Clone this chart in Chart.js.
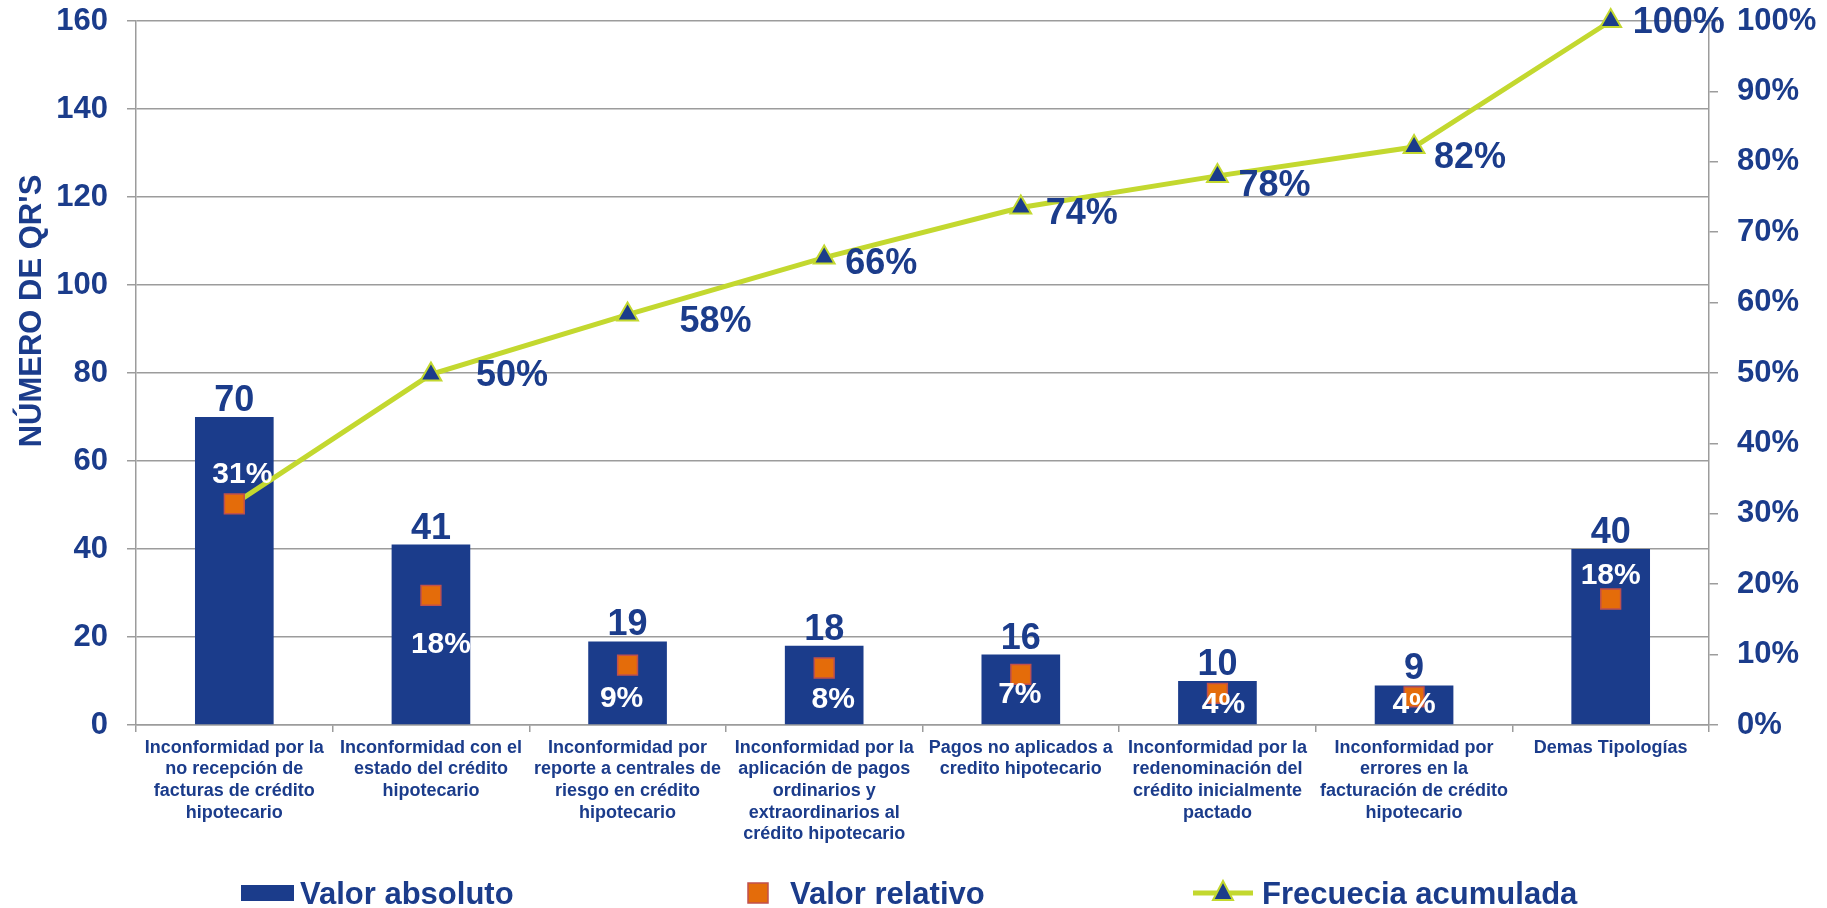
<!DOCTYPE html>
<html>
<head>
<meta charset="utf-8">
<script src="https://cdn.jsdelivr.net/npm/chart.js@4.4.1/dist/chart.umd.min.js"></script>
<style>
html,body{margin:0;padding:0;background:#fff;}
canvas{display:block;}
</style>
</head>
<body>
<canvas id="paretoChart" width="1827" height="908"></canvas>
<script>
/* =========================================
DATA
========================================= */

const categories = [
["Inconformidad por la","no recepción de","facturas de crédito","hipotecario"],
["Inconformidad con el","estado del crédito","hipotecario"],
["Inconformidad por","reporte a centrales de","riesgo en crédito","hipotecario"],
["Inconformidad por la","aplicación de pagos","ordinarios y","extraordinarios al","crédito hipotecario"],
["Pagos no aplicados a","credito hipotecario"],
["Inconformidad por la","redenominación del","crédito inicialmente","pactado"],
["Inconformidad por","errores en la","facturación de crédito","hipotecario"],
["Demas Tipologías"]
];

const absValues = [70,41,19,18,16,10,9,40];

const relValues = [31.4,18.4,8.5,8.1,7.2,4.5,4.0,17.9];

const cumValues = [31.4,49.8,58.3,66.4,73.5,78.0,82.1,100];

const relLabels = ["31%","18%","9%","8%","7%","4%","4%","18%"];

const cumLabels = ["","50%","58%","66%","74%","78%","82%","100%"];

const leftTicks = [0,20,40,60,80,100,120,140,160];

const rightTicks = [0,10,20,30,40,50,60,70,80,90,100];

const seriesNames = ["Valor absoluto","Valor relativo","Frecuecia acumulada"];

const axisTitle = "NÚMERO DE QR'S";

/* =========================================
STYLE
========================================= */

const BLUE = "#1b3c8b";
const ORANGE = "#e46c0a";
const ORANGE_EDGE = "#c0504d";
const GREEN = "#c3d82f";
const GRID = "#9c9c9c";
const FONT = '"Liberation Sans", Arial, sans-serif';

/* label nudges, in pixels: [dx, dy] */
const relShift = [[8,-29],[10,49],[-6,34],[9,32],[-1,20],[6,11],[0,8],[0,-23]];
const cumShift = [[0,0],[45,2],[52,8],[21,7],[25,7],[21,10],[20,11],[22,2]];

/* =========================================
LABELS + LEGEND
========================================= */

const paretoLabels = {

id:"paretoLabels",

afterDatasetsDraw(chart){

const ctx = chart.ctx;

ctx.save();

// bar values
ctx.font = "bold 36px " + FONT;
ctx.fillStyle = BLUE;
ctx.textAlign = "center";
ctx.textBaseline = "alphabetic";

chart.getDatasetMeta(0).data.forEach((bar,i)=>{
ctx.fillText(String(absValues[i]), bar.x, bar.y - 6);
});

// relative labels
ctx.font = "bold 30px " + FONT;
ctx.fillStyle = "#ffffff";
ctx.textBaseline = "middle";

chart.getDatasetMeta(1).data.forEach((pt,i)=>{
ctx.fillText(relLabels[i], pt.x + relShift[i][0], pt.y + relShift[i][1]);
});

// cumulative labels
ctx.font = "bold 36px " + FONT;
ctx.fillStyle = BLUE;
ctx.textAlign = "left";

chart.getDatasetMeta(2).data.forEach((pt,i)=>{
if(!cumLabels[i]) return;
ctx.fillText(cumLabels[i], pt.x + cumShift[i][0], pt.y + cumShift[i][1]);
});

ctx.restore();

},

afterDraw(chart){

const ctx = chart.ctx;

ctx.save();

// y axis title
ctx.translate(41,311);
ctx.rotate(-Math.PI/2);
ctx.font = "bold 31px " + FONT;
ctx.fillStyle = BLUE;
ctx.textAlign = "center";
ctx.textBaseline = "alphabetic";
ctx.fillText(axisTitle,0,0);
ctx.setTransform(1,0,0,1,0,0);

// legend
const y = 893;
ctx.font = "bold 31px " + FONT;
ctx.textAlign = "left";
ctx.textBaseline = "alphabetic";

ctx.fillStyle = BLUE;
ctx.fillRect(241,885,53,16);
ctx.fillText(seriesNames[0],300,904);

ctx.fillStyle = ORANGE;
ctx.fillRect(748,883,20,20);
ctx.strokeStyle = ORANGE_EDGE;
ctx.lineWidth = 1.5;
ctx.strokeRect(748,883,20,20);
ctx.fillStyle = BLUE;
ctx.fillText(seriesNames[1],790,904);

ctx.strokeStyle = GREEN;
ctx.lineWidth = 5;
ctx.beginPath();
ctx.moveTo(1193,y);
ctx.lineTo(1253,y);
ctx.stroke();
ctx.beginPath();
ctx.moveTo(1223,y-12);
ctx.lineTo(1233,y+7);
ctx.lineTo(1213,y+7);
ctx.closePath();
ctx.fillStyle = BLUE;
ctx.fill();
ctx.lineWidth = 2;
ctx.stroke();
ctx.fillText(seriesNames[2],1262,904);

ctx.restore();

}

};

/* =========================================
CHART
========================================= */

new Chart(document.getElementById("paretoChart"),{

type:"bar",

data:{

labels:categories,

datasets:[

{
type:"bar",
label:seriesNames[0],
data:absValues,
yAxisID:"y",
backgroundColor:BLUE,
borderWidth:0,
barPercentage:0.4,
categoryPercentage:1,
order:3
},

{
type:"line",
label:seriesNames[1],
data:relValues,
yAxisID:"y1",
showLine:false,
pointStyle:"rect",
pointRadius:14,
backgroundColor:ORANGE,
borderColor:ORANGE_EDGE,
pointBorderWidth:1.5,
clip:false,
order:1
},

{
type:"line",
label:seriesNames[2],
data:cumValues,
yAxisID:"y1",
borderColor:GREEN,
borderWidth:5,
tension:0,
pointStyle:"triangle",
// first point sits under the 31% square, no marker there
pointRadius:(c)=>c.dataIndex === 0 ? 0 : 12,
pointBackgroundColor:BLUE,
pointBorderColor:GREEN,
pointBorderWidth:2,
clip:false,
order:2
}

]

},

options:{

responsive:false,
animation:false,
events:[],

layout:{
padding:{top:21,bottom:60,left:0,right:0}
},

plugins:{
legend:{display:false},
tooltip:{enabled:false}
},

scales:{

x:{
afterFit:(scale)=>{ scale.height = 123; },
border:{color:GRID,width:1.5},
grid:{
offset:true,
drawOnChartArea:false,
drawTicks:true,
tickLength:7,
color:GRID,
lineWidth:1.5
},
ticks:{
color:BLUE,
font:{family:FONT,size:18,weight:"bold",lineHeight:1.2},
maxRotation:0,
autoSkip:false,
padding:5
}
},

y:{
position:"left",
min:leftTicks[0],
max:leftTicks[leftTicks.length-1],
afterFit:(scale)=>{ scale.width = 136; scale.paddingTop = 0; scale.paddingBottom = 0; },
afterBuildTicks:(scale)=>{ scale.ticks = leftTicks.map(v=>({value:v})); },
border:{color:GRID,width:1.5},
grid:{
color:GRID,
lineWidth:1.5,
tickLength:9
},
ticks:{
color:BLUE,
font:{family:FONT,size:31,weight:"bold"},
padding:19
}
},

y1:{
position:"right",
min:rightTicks[0],
max:rightTicks[rightTicks.length-1],
afterFit:(scale)=>{ scale.width = 118; scale.paddingTop = 0; scale.paddingBottom = 0; },
afterBuildTicks:(scale)=>{ scale.ticks = rightTicks.map(v=>({value:v})); },
border:{color:GRID,width:1.5},
grid:{
drawOnChartArea:false,
color:GRID,
lineWidth:1.5,
tickLength:9
},
ticks:{
color:BLUE,
font:{family:FONT,size:31,weight:"bold"},
padding:19,
callback:(v)=>v + "%"
}
}

}

},

plugins:[paretoLabels]

});
</script>
</body>
</html>
